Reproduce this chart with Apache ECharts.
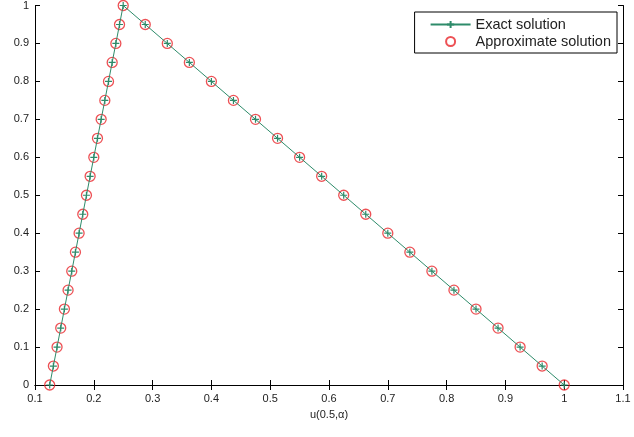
<!DOCTYPE html>
<html>
<head>
<meta charset="utf-8">
<script src="https://cdn.jsdelivr.net/npm/echarts@6/dist/echarts.min.js"></script>
<style>
  html, body { margin: 0; padding: 0; background: #fff; }
  #chart { width: 634px; height: 437px; }
</style>
</head>
<body>
<div id="chart"></div>
<script>
// alpha levels (y) and u(0.5, alpha) values (x)
const alphaLevels = [0, 0.05, 0.1, 0.15, 0.2, 0.25, 0.3, 0.35, 0.4, 0.45, 0.5,
  0.55, 0.6, 0.65, 0.7, 0.75, 0.8, 0.85, 0.9, 0.95, 1];
const uLeft = [0.125, 0.13125, 0.1375, 0.14375, 0.15, 0.15625, 0.1625, 0.16875, 0.175, 0.18125, 0.1875,
  0.19375, 0.2, 0.20625, 0.2125, 0.21875, 0.225, 0.23125, 0.2375, 0.24375, 0.25];
const uRight = [1, 0.9625, 0.925, 0.8875, 0.85, 0.8125, 0.775, 0.7375, 0.7, 0.6625, 0.625,
  0.5875, 0.55, 0.5125, 0.475, 0.4375, 0.4, 0.3625, 0.325, 0.2875, 0.25];

// walk up the left branch, then back down the right branch
const exactPts = [];
alphaLevels.forEach((a, i) => exactPts.push([uLeft[i], a]));
for (let i = alphaLevels.length - 2; i >= 0; i--) exactPts.push([uRight[i], alphaLevels[i]]);
const approxPts = exactPts.slice();

const lineColor = '#2e8b6a';
const font = 'Liberation Sans, Arial, sans-serif';

const axisLine = { show: true, lineStyle: { color: '#000', width: 1 } };
const tickIn = { show: true, inside: true, length: 5, lineStyle: { color: '#000' } };

const chart = echarts.init(document.getElementById('chart'));
chart.setOption({
  animation: false,
  backgroundColor: '#fff',
  grid: { left: 35, right: 11, top: 5, bottom: 52 },
  legend: {
    orient: 'vertical',
    right: 17,
    top: 12,
    backgroundColor: '#fff',
    borderColor: '#000',
    borderWidth: 1,
    borderRadius: 0,
    padding: [5, 6, 4, 15],
    itemGap: 2,
    itemWidth: 40,
    itemHeight: 9,
    textStyle: { fontFamily: font, fontSize: 14.5, color: '#222' },
    data: ['Exact solution', 'Approximate solution']
  },
  xAxis: [{
    type: 'value', min: 0.1, max: 1.1, interval: 0.1,
    name: 'u(0.5,α)', nameLocation: 'middle', nameGap: 24,
    nameTextStyle: { fontFamily: font, fontSize: 11, color: '#222' },
    axisLine: axisLine, axisTick: tickIn, splitLine: { show: false },
    axisLabel: {
      fontFamily: font, fontSize: 11, color: '#222', margin: 8,
      formatter: v => String(+v.toFixed(1))
    }
  }, {
    type: 'value', position: 'top', min: 0.1, max: 1.1, interval: 0.1,
    axisLine: axisLine, axisTick: tickIn, axisLabel: { show: false }, splitLine: { show: false }
  }],
  yAxis: [{
    type: 'value', min: 0, max: 1, interval: 0.1,
    axisLine: axisLine, axisTick: tickIn, splitLine: { show: false },
    axisLabel: {
      fontFamily: font, fontSize: 11, color: '#222', margin: 6,
      formatter: v => String(+v.toFixed(1))
    }
  }, {
    type: 'value', position: 'right', min: 0, max: 1, interval: 0.1,
    axisLine: axisLine, axisTick: tickIn, axisLabel: { show: false }, splitLine: { show: false }
  }],
  series: [{
    name: 'Exact solution',
    type: 'line',
    data: exactPts,
    z: 3,
    symbol: 'path://M5,0L5,10M0,5L10,5',
    symbolSize: 7,
    showAllSymbol: true,
    lineStyle: { color: lineColor, width: 1 },
    itemStyle: { color: 'none', borderColor: lineColor, borderWidth: 1.2 }
  }, {
    name: 'Approximate solution',
    type: 'scatter',
    data: approxPts,
    z: 2,
    symbol: 'circle',
    symbolSize: 10,
    itemStyle: { color: 'rgba(255,255,255,0)', borderColor: '#e8262a', borderWidth: 1.3 }
  }]
});
</script>
</body>
</html>
